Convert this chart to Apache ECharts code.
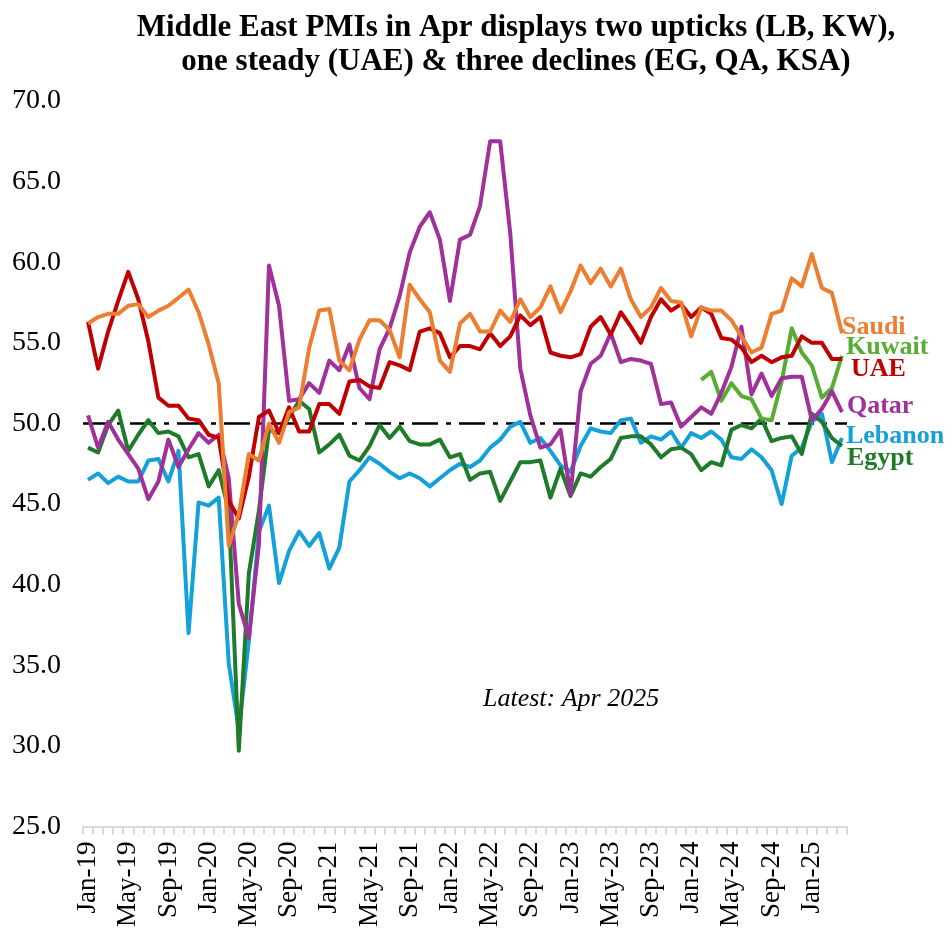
<!DOCTYPE html>
<html>
<head>
<meta charset="utf-8">
<script src="https://cdn.jsdelivr.net/npm/echarts@6/dist/echarts.min.js"></script>
<style>
html,body{margin:0;padding:0;background:#fff;}
#chart{width:952px;height:930px;}
</style>
</head>
<body>
<div id="chart"></div>
<script>
// ---- data ----
var monthNames = ['Jan','Feb','Mar','Apr','May','Jun','Jul','Aug','Sep','Oct','Nov','Dec'];
var years = ['19','20','21','22','23','24','25'];
var lastMonthIndexOf2025 = 3; // Apr-25
var categories = [];
years.forEach(function (y, yi) {
  monthNames.forEach(function (m, mi) {
    if (yi === years.length - 1 && mi > lastMonthIndexOf2025) return;
    categories.push(m + '-' + y);
  });
});

var saudi = [56.2,56.6,56.8,56.8,57.3,57.4,56.6,57.0,57.3,57.8,58.3,56.9,
  54.9,52.5,42.4,44.4,48.1,47.7,50.0,48.8,50.7,51.0,54.7,57.0,
  57.1,53.9,53.3,55.2,56.4,56.4,55.8,54.1,58.6,57.7,56.9,53.9,
  53.2,56.2,56.8,55.7,55.7,57.0,56.3,57.7,56.6,57.2,58.5,56.9,
  58.2,59.8,58.7,59.6,58.5,59.6,57.7,56.6,57.2,58.4,57.6,57.5,
  55.4,57.2,57.0,57.0,56.4,55.4,54.4,54.7,56.8,57.0,59.0,58.5,
  60.5,58.4,58.1,55.6];

var uae = [56.3,53.4,55.7,57.6,59.4,57.7,55.1,51.6,51.1,51.1,50.3,50.2,
  49.3,49.1,45.2,44.1,46.7,50.4,50.8,49.4,51.0,49.5,49.5,51.2,
  51.2,50.6,52.6,52.7,52.3,52.2,53.8,53.6,53.3,55.7,55.9,55.6,
  54.1,54.8,54.8,54.6,55.6,54.8,55.4,56.7,56.1,56.6,54.4,54.2,
  54.1,54.3,56.0,56.6,55.5,56.9,56.0,55.0,56.6,57.7,57.0,57.4,
  56.6,57.2,56.8,55.3,55.2,54.7,53.8,54.2,53.8,54.1,54.2,55.4,
  55.0,55.0,54.0,54.0];

var kuwait = [null,null,null,null,null,null,null,null,null,null,null,null,
  null,null,null,null,null,null,null,null,null,null,null,null,
  null,null,null,null,null,null,null,null,null,null,null,null,
  null,null,null,null,null,null,null,null,null,null,null,null,
  null,null,null,null,null,null,null,null,null,null,null,null,
  null,52.7,53.2,51.4,52.5,51.7,51.5,50.3,50.2,52.6,55.9,54.4,
  53.6,51.6,52.2,54.2];

var qatar = [50.5,48.5,50.1,49.0,48.1,47.2,45.3,46.4,49.0,47.3,48.4,49.4,
  48.8,49.3,46.6,38.8,36.7,42.5,59.8,57.3,51.4,51.5,52.5,51.9,
  53.9,53.3,54.9,52.2,51.5,54.6,55.9,57.9,60.6,62.2,63.1,61.4,
  57.6,61.4,61.7,63.5,67.5,67.5,61.8,53.4,50.5,48.5,48.7,49.6,
  45.6,52.0,53.7,54.2,55.6,53.8,54.0,53.9,53.7,51.2,51.3,49.8,
  50.4,51.0,50.6,51.9,53.5,56.0,51.8,53.1,51.7,52.8,52.9,52.9,
  50.2,50.9,52.0,50.7];

var lebanon = [46.5,46.9,46.3,46.7,46.4,46.4,47.7,47.8,46.4,48.3,37.0,45.1,
  44.9,45.4,35.1,31.0,36.5,43.3,44.9,40.1,42.1,43.3,42.4,43.2,
  41.0,42.3,46.4,47.1,47.9,47.5,47.0,46.6,46.9,46.6,46.1,46.6,
  47.1,47.5,47.3,47.7,48.5,49.0,49.8,50.1,48.8,49.1,48.3,47.4,
  47.0,48.6,49.7,49.5,49.4,50.2,50.3,48.8,49.2,49.0,49.5,48.5,
  49.4,49.1,49.5,49.0,47.9,47.8,48.4,47.9,47.1,45.0,48.0,48.5,
  50.1,50.6,47.6,49.1];

var egypt = [48.5,48.2,49.9,50.8,48.3,49.3,50.2,49.4,49.5,49.2,47.9,48.1,
  46.1,47.1,44.6,29.7,40.7,44.6,49.6,49.4,50.4,51.4,50.9,48.2,
  48.7,49.3,48.0,47.7,48.6,49.9,49.1,49.8,48.9,48.7,48.7,49.0,
  47.9,48.1,46.5,46.9,47.0,45.2,46.4,47.6,47.6,47.7,45.4,47.2,
  45.5,46.9,46.7,47.3,47.8,49.1,49.2,49.2,48.7,47.9,48.4,48.5,
  48.1,47.1,47.6,47.4,49.6,49.9,49.7,50.3,48.9,49.1,49.2,48.1,
  50.6,50.1,49.1,48.6];

var yTicks = [25, 30, 35, 40, 45, 50, 55, 60, 65, 70];
var threshold = 50;
var titleText = 'Middle East PMIs in Apr displays two upticks (LB, KW),\none steady (UAE) & three declines (EG, QA, KSA)';
var noteText = 'Latest: Apr 2025';

// ---- chart ----
var serif = "'Liberation Serif', 'Times New Roman', serif";
var chart = echarts.init(document.getElementById('chart'), null, {renderer: 'canvas'});

function mkSeries(name, data, color, offset, z) {
  return {
    name: name,
    type: 'line',
    data: data,
    symbol: 'none',
    z: z,
    connectNulls: false,
    lineStyle: {width: 4, color: color, join: 'round'},
    itemStyle: {color: color},
    emphasis: {disabled: true},
    endLabel: {
      show: true,
      formatter: '{a}',
      color: color,
      fontFamily: serif,
      fontWeight: 'bold',
      fontSize: 26,
      distance: 5,
      offset: offset
    }
  };
}

var series = [
  mkSeries('Lebanon', lebanon, '#14A0D8', [-1, -2], 2),
  mkSeries('Egypt', egypt, '#1F7A2A', [0, 12], 3),
  mkSeries('Kuwait', kuwait, '#57AD33', [-1, -8], 4),
  mkSeries('Qatar', qatar, '#A0309A', [0, -6], 5),
  mkSeries('UAE', uae, '#C00000', [4, 10], 6),
  mkSeries('Saudi', saudi, '#ED7D31', [-5, -6], 7)
];
series[0].markLine = {
  silent: true,
  symbol: 'none',
  z: 1,
  label: {show: false},
  lineStyle: {color: '#000', width: 2.5, type: [26, 8, 5, 8]},
  data: [{yAxis: threshold}]
};

var option = {
  backgroundColor: '#fff',
  animation: false,
  title: {
    text: titleText,
    left: 511,
    top: 6,
    textAlign: 'center',
    textStyle: {fontFamily: serif, fontWeight: 'bold', fontSize: 31, lineHeight: 34, color: '#000'}
  },
  grid: {left: 83, right: 105, top: 101, bottom: 100, containLabel: false},
  xAxis: {
    type: 'category',
    data: categories,
    boundaryGap: true,
    axisLine: {show: true, lineStyle: {color: '#d9d9d9', width: 2}},
    axisTick: {show: true, interval: 0, length: 8, lineStyle: {color: '#d9d9d9', width: 2}},
    axisLabel: {interval: 3, rotate: 90, margin: 15, color: '#000', fontFamily: serif, fontSize: 27},
    splitLine: {show: false}
  },
  yAxis: {
    type: 'value',
    min: yTicks[0],
    max: yTicks[yTicks.length - 1],
    interval: yTicks[1] - yTicks[0],
    axisLine: {show: false},
    axisTick: {show: false},
    splitLine: {show: false},
    axisLabel: {
      margin: 22,
      color: '#000',
      fontFamily: serif,
      fontSize: 28,
      formatter: function (v) { return v.toFixed(1); }
    }
  },
  graphic: [{
    type: 'text',
    left: 483,
    top: 686,
    style: {text: noteText, font: 'italic 26px ' + serif, fill: '#000'}
  }],
  series: series
};
chart.setOption(option);
</script>
</body>
</html>
